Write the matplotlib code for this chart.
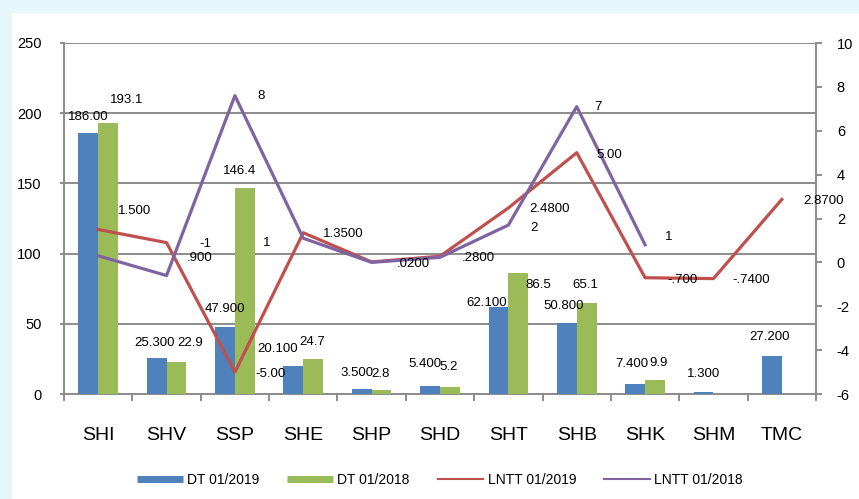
import numpy as np
import matplotlib
matplotlib.use("Agg")
import matplotlib.pyplot as plt
from matplotlib.lines import Line2D
from matplotlib.patches import Rectangle

plt.rcParams['font.family'] = ['Liberation Sans', 'DejaVu Sans']
plt.rcParams['axes.unicode_minus'] = False

# data
companies = ["SHI", "SHV", "SSP", "SHE", "SHP", "SHD", "SHT", "SHB", "SHK", "SHM", "TMC"]
dt_2019 = [186.0, 25.3, 47.9, 20.1, 3.5, 5.4, 62.1, 50.8, 7.4, 1.3, 27.2]
dt_2018 = [193.1, 22.9, 146.4, 24.7, 2.8, 5.2, 86.5, 65.1, 9.9, np.nan, np.nan]
lntt_2019 = [1.5, 0.9, -5.0, 1.35, 0.02, 0.28, 2.48, 5.0, -0.7, -0.74, 2.87]
lntt_2018 = [0.3, -0.6, 7.6, 1.1, 0.0, 0.23, 1.7, 7.1, 0.8, np.nan, np.nan]

lbl_dt_2019 = ["186.00", "25.300", "47.900", "20.100", "3.500", "5.400", "62.100",
               "50.800", "7.400", "1.300", "27.200"]
lbl_dt_2018 = ["193.1", "22.9", "146.4", "24.7", "2.8", "5.2", "86.5", "65.1", "9.9", "", ""]
lbl_lntt_2019 = ["1.500", ".900", "-5.00", "1.3500", ".0200", ".2800", "2.4800",
                 "5.00", "-.700", "-.7400", "2.8700"]
lbl_lntt_2018 = ["", "-1", "8", "1", "", "", "2", "7", "1", "", ""]

# label placement (pixels), as Excel laid them out
off_2019 = [(0, 16), (-2, 15), (0, 18), (-16, 17), (-5, 16), (-5, 22), (-12, 4),
            (-3, 17), (-3, 20), (0, 18), (-2, 19)]
off_2018 = [(19, 23), (14, 19), (-5, 17), (-1, 17), (-1, 16), (-1, 20), (20, -12),
            (-1, 18), (4, 17), (0, 0), (0, 0)]
off_l19 = [(20, 18), (20, -15), (20, -2), (20, -1), (25, -2), (22, -2), (21, -1),
           (20, -2), (22, -2), (19, -1), (21, -2)]
off_l18 = [(0, 0), (33, 32), (22, 0), (-40, -5), (0, 0), (0, 0), (22, -3),
           (18, 0), (20, 8), (0, 0), (0, 0)]

blue, green, red, purple = "#4f81bd", "#9bbb59", "#c0504d", "#8064a2"
grey = "#8c8c8c"

fig = plt.figure(figsize=(8.59, 4.99), dpi=100)
fig.patch.set_facecolor("white")
# light cyan frame on the top and left edge
fig.add_artist(Rectangle((0, 1 - 12 / 499), 1, 12 / 499, transform=fig.transFigure,
                         color="#e6f7fc", zorder=0))
fig.add_artist(Rectangle((0, 0), 11 / 859, 1, transform=fig.transFigure,
                         color="#e6f7fc", zorder=0))

ax = fig.add_axes([64 / 859, 1 - 394 / 499, 752 / 859, 351 / 499])
ax2 = ax.twinx()

x = np.arange(len(companies))
w = 0.29
ax.bar(x - w / 2, dt_2019, w, color=blue, zorder=3)
ax.bar(x + w / 2, dt_2018, w, color=green, zorder=3)

ax.set_xlim(-0.5, len(companies) - 0.5)
ax.set_ylim(0, 250)
ax.set_yticks(range(0, 251, 50))
ax.yaxis.grid(True, color=grey, lw=1.4, zorder=0)
ax.set_axisbelow(True)

ax.set_xticks(x)
ax.set_xticklabels(companies, fontsize=14)
ax.set_xticks(np.arange(-0.5, len(companies), 1), minor=True)
ax.tick_params(axis="x", which="major", length=0, pad=24)
ax.tick_params(axis="x", which="minor", length=5, width=1.4, color=grey)
ax.tick_params(axis="y", length=3, width=1.4, color=grey, labelsize=10.5, pad=13)

for s in ["top", "right"]:
    ax.spines[s].set_visible(False)
for s in ["left", "bottom"]:
    ax.spines[s].set_color(grey)
    ax.spines[s].set_linewidth(1.4)

ax2.plot(x, lntt_2019, color=red, lw=2.3, zorder=4)
ax2.plot(x, lntt_2018, color=purple, lw=2.3, zorder=4)
ax2.set_ylim(-6, 10)
ax2.set_yticks(range(-6, 11, 2))
ax2.tick_params(axis="y", length=4, width=1.4, color=grey, labelsize=10.5, pad=11)
for s in ["top", "left", "bottom"]:
    ax2.spines[s].set_visible(False)
ax2.spines["right"].set_color(grey)
ax2.spines["right"].set_linewidth(1.4)

# data labels
fs = 9.5
for i in range(len(companies)):
    ax.annotate(lbl_dt_2019[i], (x[i] - w / 2, dt_2019[i]), xytext=off_2019[i],
                textcoords="offset pixels", ha="center", va="center", fontsize=fs, zorder=6)
    if lbl_dt_2018[i]:
        ax.annotate(lbl_dt_2018[i], (x[i] + w / 2, dt_2018[i]), xytext=off_2018[i],
                    textcoords="offset pixels", ha="center", va="center", fontsize=fs, zorder=6)
    ax2.annotate(lbl_lntt_2019[i], (x[i], lntt_2019[i]), xytext=off_l19[i],
                 textcoords="offset pixels", ha="left", va="center", fontsize=fs, zorder=6)
    if lbl_lntt_2018[i]:
        ax2.annotate(lbl_lntt_2018[i], (x[i], lntt_2018[i]), xytext=off_l18[i],
                     textcoords="offset pixels", ha="left", va="center", fontsize=fs, zorder=6)

handles = [Line2D([], [], color=blue, lw=5, solid_capstyle="butt"),
           Line2D([], [], color=green, lw=5, solid_capstyle="butt"),
           Line2D([], [], color=red, lw=1.5), Line2D([], [], color=purple, lw=1.5)]
names = ["DT 01/2019", "DT 01/2018", "LNTT 01/2019", "LNTT 01/2018"]
fig.legend(handles, names, loc="center", bbox_to_anchor=(440 / 859, 1 - 480 / 499),
           ncol=4, frameon=False, fontsize=10, handlelength=3.3, columnspacing=2.0,
           handletextpad=0.3)

fig.savefig("out.png", dpi=100)
